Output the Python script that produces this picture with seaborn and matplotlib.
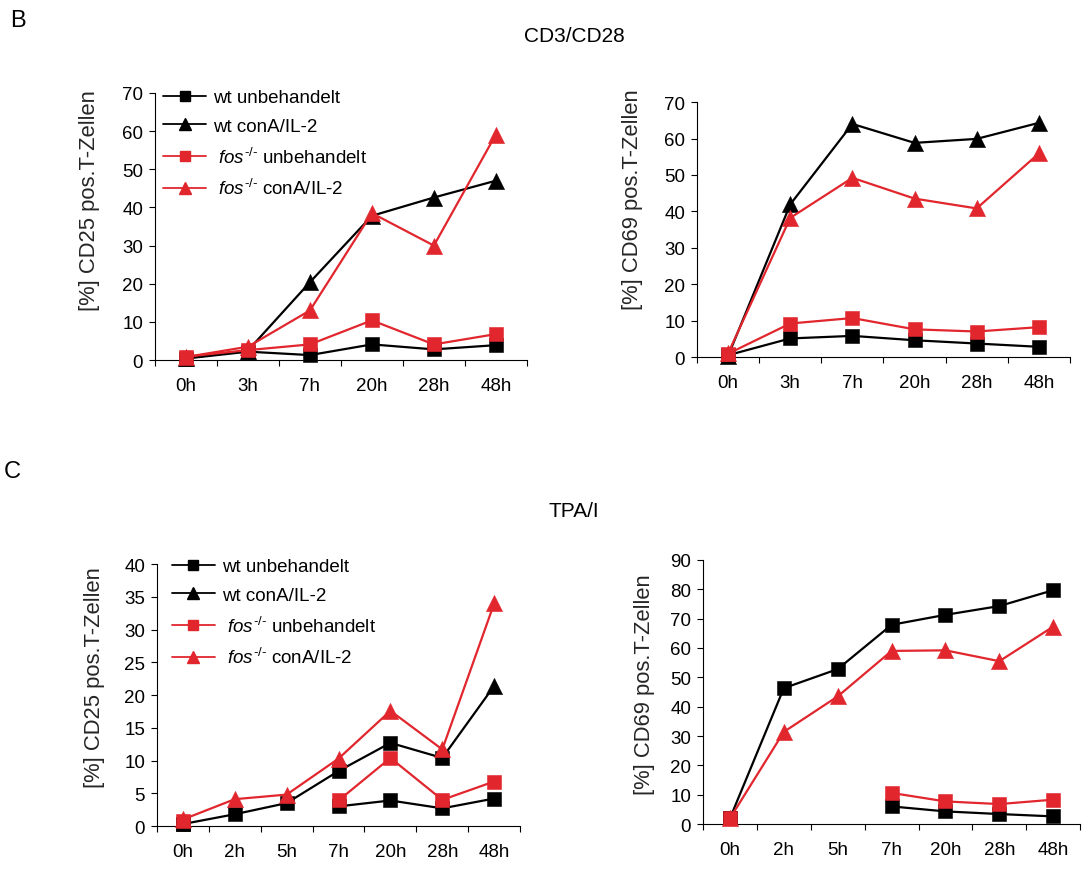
import numpy as np
import pandas as pd
import matplotlib
matplotlib.use("Agg")
import matplotlib.pyplot as plt
import seaborn as sns
from matplotlib.lines import Line2D

sns.set_theme(style="ticks")
plt.rcParams.update({
    "font.family": ["Liberation Sans", "DejaVu Sans"],
    "mathtext.fontset": "custom",
    "mathtext.rm": "Liberation Sans",
    "mathtext.it": "Liberation Sans:italic",
    "mathtext.bf": "Liberation Sans:bold",
    "axes.linewidth": 0.8,
    "axes.edgecolor": "black",
    "xtick.color": "black",
    "ytick.color": "black",
    "text.color": "black",
})

nan = np.nan

# ---- time points ----
times_B = ["0h", "3h", "7h", "20h", "28h", "48h"]
times_C = ["0h", "2h", "5h", "7h", "20h", "28h", "48h"]

# ---- B: CD3/CD28 stimulation, CD25 ----
b_cd25_wt_unbeh = [0.4, 2.2, 1.3, 4.1, 2.8, 3.9]
b_cd25_wt_cona = [0.5, 2.5, 20.4, 37.8, 42.6, 47.0]
b_cd25_fos_unbeh = [0.9, 2.6, 4.1, 10.4, 4.1, 6.8]
b_cd25_fos_cona = [0.8, 3.5, 13.0, 38.5, 30.0, 59.1]

# ---- B: CD3/CD28 stimulation, CD69 ----
b_cd69_wt_unbeh = [0.5, 5.1, 5.8, 4.6, 3.7, 2.8]
b_cd69_wt_cona = [0.3, 41.9, 64.0, 58.8, 59.9, 64.3]
b_cd69_fos_unbeh = [0.9, 9.2, 10.7, 7.6, 7.0, 8.2]
b_cd69_fos_cona = [1.0, 38.2, 49.2, 43.5, 40.8, 55.9]

# ---- C: TPA/I stimulation, CD25 ----
c_cd25_wt_unbeh = [0.3, nan, nan, 3.0, 3.9, 2.7, 4.2]
c_cd25_wt_cona = [0.3, 1.8, 3.5, 8.4, 12.7, 10.4, 21.4]
c_cd25_fos_unbeh = [0.7, nan, nan, 3.9, 10.4, 4.0, 6.8]
c_cd25_fos_cona = [1.0, 4.1, 4.8, 10.3, 17.6, 11.7, 34.0]

# ---- C: TPA/I stimulation, CD69 ----
c_cd69_wt_unbeh = [1.9, nan, nan, 6.0, 4.3, 3.4, 2.6]
c_cd69_wt_cona = [1.9, 46.3, 52.8, 67.9, 71.3, 74.3, 79.7]
c_cd69_fos_unbeh = [1.9, nan, nan, 10.6, 7.7, 6.8, 8.3]
c_cd69_fos_cona = [1.9, 31.4, 43.5, 59.0, 59.2, 55.5, 67.3]

legend_labels = [
    "wt unbehandelt",
    "wt conA/IL-2",
    r" $\mathit{fos}^{\text{-/-}}$ unbehandelt",
    r" $\mathit{fos}^{\text{-/-}}$ conA/IL-2",
]

BLACK = "#000000"
RED = "#E1262D"
LW = 1.6
SIZE = {"s": 105, "^": 135}
FS = 13.5


def draw_series(ax, values, color, markers, z):
    n = len(values)
    df = pd.DataFrame({"pos": np.arange(n), "val": values, "mk": markers})
    df["run"] = df["val"].isna().cumsum()
    ok = df.dropna(subset=["val"])
    for _, seg in ok.groupby("run"):
        if len(seg) > 1:
            sns.lineplot(data=seg, x="pos", y="val", color=color, linewidth=LW,
                         estimator=None, sort=False, ax=ax, zorder=z,
                         legend=False)
    for mk, pts in ok.groupby("mk"):
        sns.scatterplot(data=pts, x="pos", y="val", marker=mk, s=SIZE[mk],
                        color=color, edgecolor=color, linewidth=0.4, ax=ax,
                        zorder=z + 0.5, legend=False, clip_on=False)


def style_axes(ax, cats, ymax, ystep, ylabel, label_xy):
    n = len(cats)
    ax.set_xlim(-0.5, n - 0.5)
    ax.set_ylim(0, ymax)
    ax.set_xticks(range(n))
    ax.set_xticklabels(cats)
    ax.set_xticks(np.arange(n + 1) - 0.5, minor=True)
    ax.tick_params(axis="x", which="major", length=0, pad=12, labelsize=FS)
    ax.tick_params(axis="x", which="minor", length=4, width=0.8,
                   direction="out")
    ax.set_yticks(np.arange(0, ymax + 1, ystep).astype(int))
    ax.tick_params(axis="y", length=4.5, width=0.8, pad=4, labelsize=FS,
                   direction="out")
    ax.set_xlabel("")
    ax.set_ylabel(ylabel, fontsize=15.8)
    ax.yaxis.set_label_coords(*label_xy)
    sns.despine(ax=ax)


def add_legend(ax, anchor):
    handles = [
        Line2D([], [], color=BLACK, marker="s", markersize=7.5, lw=1.3),
        Line2D([], [], color=BLACK, marker="^", markersize=8.5, lw=1.3),
        Line2D([], [], color=RED, marker="s", markersize=7.5, lw=1.3),
        Line2D([], [], color=RED, marker="^", markersize=8.5, lw=1.3),
    ]
    ax.legend(handles, legend_labels, loc="upper left", bbox_to_anchor=anchor,
              frameon=False, borderaxespad=0, borderpad=0, handlelength=2.3,
              handletextpad=0.35, labelspacing=0.62, fontsize=FS)


fig = plt.figure(figsize=(10.84, 8.70), dpi=100)
fig.patch.set_facecolor("white")

panels = [
    # axes rect, times, series, wt conA markers, ymax, step, ylabel, label pos, legend anchor
    ([0.143, 0.585, 0.343, 0.307], times_B,
     [b_cd25_wt_unbeh, b_cd25_wt_cona, b_cd25_fos_unbeh, b_cd25_fos_cona],
     ["^"] * 6, 70, 10, "[%] CD25 pos.T-Zellen", (-0.148, 0.60), (0.0215, 1.015)),
    ([0.643, 0.5885, 0.344, 0.293], times_B,
     [b_cd69_wt_unbeh, b_cd69_wt_cona, b_cd69_fos_unbeh, b_cd69_fos_cona],
     ["^"] * 6, 70, 10, "[%] CD69 pos.T-Zellen", (-0.145, 0.62), None),
    ([0.1448, 0.0494, 0.335, 0.301], times_C,
     [c_cd25_wt_unbeh, c_cd25_wt_cona, c_cd25_fos_unbeh, c_cd25_fos_cona],
     ["s"] * 6 + ["^"], 40, 5, "[%] CD25 pos.T-Zellen", (-0.143, 0.57), (0.041, 1.023)),
    ([0.6485, 0.0517, 0.348, 0.3035], times_C,
     [c_cd69_wt_unbeh, c_cd69_wt_cona, c_cd69_fos_unbeh, c_cd69_fos_cona],
     ["s"] * 7, 90, 10, "[%] CD69 pos.T-Zellen", (-0.127, 0.53), None),
]

for rect, cats, series, cona_marks, ymax, step, ylab, lab_xy, leg in panels:
    ax = fig.add_axes(rect)
    ax.set_facecolor("white")
    n = len(cats)
    styles = [
        (BLACK, ["s"] * n),
        (BLACK, cona_marks),
        (RED, ["s"] * n),
        (RED, ["^"] * n),
    ]
    for i, (vals, (col, mks)) in enumerate(zip(series, styles)):
        draw_series(ax, vals, col, mks, z=3 + 2 * i)
    style_axes(ax, cats, ymax, step, ylab, lab_xy)
    if leg is not None:
        add_legend(ax, leg)

fig.text(0.0166, 0.976, "B", fontsize=17, ha="center", va="center")
fig.text(0.011, 0.457, "C", fontsize=17, ha="center", va="center")
fig.text(0.5295, 0.958, "CD3/CD28", fontsize=15, ha="center", va="center")
fig.text(0.5295, 0.4126, "TPA/I", fontsize=15, ha="center", va="center")

fig.savefig("out.png", dpi=100, facecolor="white")
